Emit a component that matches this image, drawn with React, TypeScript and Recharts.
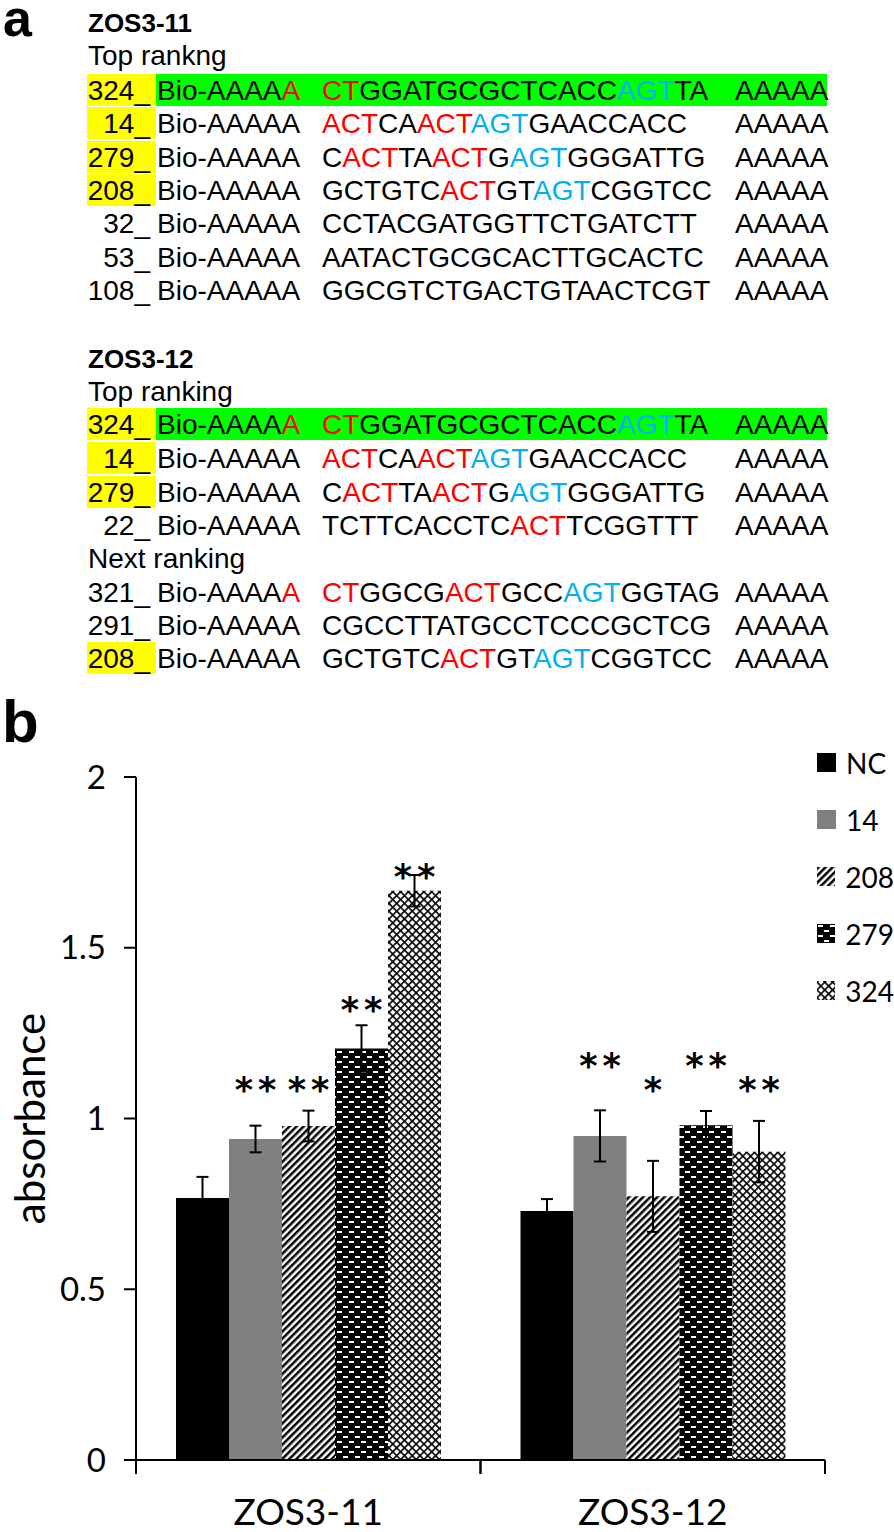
import React from "react";
import { BarChart, Bar, XAxis, YAxis, ErrorBar, LabelList, Legend } from "recharts";

// ---- chart data (panel b) ----
const groups = ["ZOS3-11", "ZOS3-12"];

const ncValues = [0.767, 0.729];
const ncErrors = [0.062, 0.035];
const ncStars = ["", ""];
const ncStarLevels = [0, 0];

const a14Values = [0.94, 0.949];
const a14Errors = [0.039, 0.075];
const a14Stars = ["**", "**"];
const a14StarLevels = [1.104, 1.174];

const a208Values = [0.978, 0.772];
const a208Errors = [0.045, 0.104];
const a208Stars = ["**", "*"];
const a208StarLevels = [1.104, 1.104];

const a279Values = [1.205, 0.98];
const a279Errors = [0.068, 0.042];
const a279Stars = ["**", "**"];
const a279StarLevels = [1.338, 1.174];

const a324Values = [1.667, 0.903];
const a324Errors = [0.046, 0.09];
const a324Stars = ["**", "**"];
const a324StarLevels = [1.728, 1.104];

const yTicks = [0, 0.5, 1, 1.5, 2];

const series = [
  { key: "nc", name: "NC", fill: "#000000", values: ncValues, errors: ncErrors, stars: ncStars, levels: ncStarLevels },
  { key: "s14", name: "14", fill: "#808080", values: a14Values, errors: a14Errors, stars: a14Stars, levels: a14StarLevels },
  { key: "s208", name: "208", fill: "url(#pat208)", values: a208Values, errors: a208Errors, stars: a208Stars, levels: a208StarLevels },
  { key: "s279", name: "279", fill: "url(#pat279)", values: a279Values, errors: a279Errors, stars: a279Stars, levels: a279StarLevels },
  { key: "s324", name: "324", fill: "url(#pat324)", values: a324Values, errors: a324Errors, stars: a324Stars, levels: a324StarLevels },
];

const data = groups.map((group, i) => {
  const row: Record<string, any> = { group };
  series.forEach((s) => {
    row[s.key] = s.values[i];
    row[s.key + "Err"] = s.errors[i];
    row[s.key + "Star"] = s.stars[i];
    row[s.key + "Lvl"] = s.levels[i];
  });
  return row;
});

// ---- sequence table (panel a) ----
const RED = "#ff0000";
const BLUE = "#00b0f0";
type Seg = [string, string?];
type SeqRow = { id: string; mark?: "yellow" | "green"; bio?: Seg[]; seq: Seg[] };

const zos11Rows: SeqRow[] = [
  { id: "324_", mark: "green", bio: [["Bio-AAAA"], ["A", RED]], seq: [["CT", RED], ["GGATGCGCTCACC"], ["AGT", BLUE], ["TA"]] },
  { id: "14_", mark: "yellow", seq: [["ACT", RED], ["CA"], ["ACT", RED], ["AGT", BLUE], ["GAACCACC"]] },
  { id: "279_", mark: "yellow", seq: [["C"], ["ACT", RED], ["TA"], ["ACT", RED], ["G"], ["AGT", BLUE], ["GGGATTG"]] },
  { id: "208_", mark: "yellow", seq: [["GCTGTC"], ["ACT", RED], ["GT"], ["AGT", BLUE], ["CGGTCC"]] },
  { id: "32_", seq: [["CCTACGATGGTTCTGATCTT"]] },
  { id: "53_", seq: [["AATACTGCGCACTTGCACTC"]] },
  { id: "108_", seq: [["GGCGTCTGACTGTAACTCGT"]] },
];

const zos12TopRows: SeqRow[] = [
  { id: "324_", mark: "green", bio: [["Bio-AAAA"], ["A", RED]], seq: [["CT", RED], ["GGATGCGCTCACC"], ["AGT", BLUE], ["TA"]] },
  { id: "14_", mark: "yellow", seq: [["ACT", RED], ["CA"], ["ACT", RED], ["AGT", BLUE], ["GAACCACC"]] },
  { id: "279_", mark: "yellow", seq: [["C"], ["ACT", RED], ["TA"], ["ACT", RED], ["G"], ["AGT", BLUE], ["GGGATTG"]] },
  { id: "22_", seq: [["TCTTCACCTC"], ["ACT", RED], ["TCGGTTT"]] },
];

const zos12NextRows: SeqRow[] = [
  { id: "321_", bio: [["Bio-AAAA"], ["A", RED]], seq: [["CT", RED], ["GGCG"], ["ACT", RED], ["GCC"], ["AGT", BLUE], ["GGTAG"]] },
  { id: "291_", seq: [["CGCCTTATGCCTCCCGCTCG"]] },
  { id: "208_", mark: "yellow", seq: [["GCTGTC"], ["ACT", RED], ["GT"], ["AGT", BLUE], ["CGGTCC"]] },
];

const SEQ_FONT = "'Liberation Sans', Arial, sans-serif";
const CHART_FONT = "Lato, 'Open Sans', sans-serif";

function SeqLine({ row, y }: { row: SeqRow; y: number }) {
  const bio = row.bio ?? [["Bio-AAAAA"]];
  return (
    <g>
      {row.mark && <rect x={87} y={y - 26} width={69} height={32} fill="#ffff00" />}
      {row.mark === "green" && <rect x={156} y={y - 26} width={671} height={32} fill="#00ff00" />}
      <text x={150} y={y} textAnchor="end">{row.id}</text>
      <text x={157} y={y}>
        {bio.map(([t, c], i) => (
          <tspan key={i} fill={c ?? "#000"}>{t}</tspan>
        ))}
      </text>
      <text x={322} y={y}>
        {row.seq.map(([t, c], i) => (
          <tspan key={i} fill={c ?? "#000"}>{t}</tspan>
        ))}
      </text>
      <text x={735} y={y}>AAAAA</text>
    </g>
  );
}

function SequencePanel() {
  const rows11 = [100, 133, 167, 200, 233, 267, 300];
  const rows12 = [434, 468, 502, 535];
  const rowsNext = [602, 635, 668];
  return (
    <svg width={894} height={1532} style={{ position: "absolute", left: 0, top: 0 }}>
      <g fontFamily={SEQ_FONT} fontSize={28} fill="#000">
        <text x={3} y={36} fontSize={52} fontWeight="bold">a</text>
        <text x={2} y={742} fontSize={60} fontWeight="bold">b</text>
        <text x={88} y={32} fontSize={26} fontWeight="bold">ZOS3-11</text>
        <text x={88} y={65}>Top rankng</text>
        {zos11Rows.map((r, i) => (
          <SeqLine key={"a" + i} row={r} y={rows11[i]} />
        ))}
        <text x={88} y={368} fontSize={26} fontWeight="bold">ZOS3-12</text>
        <text x={88} y={401}>Top ranking</text>
        {zos12TopRows.map((r, i) => (
          <SeqLine key={"b" + i} row={r} y={rows12[i]} />
        ))}
        <text x={88} y={568}>Next ranking</text>
        {zos12NextRows.map((r, i) => (
          <SeqLine key={"c" + i} row={r} y={rowsNext[i]} />
        ))}
      </g>
    </svg>
  );
}

// significance stars placed at a level read through the bar's own scale
const starContent = (key: string) => (props: any) => {
  const idx = props.index ?? 0;
  const text = data[idx]?.[key + "Star"];
  if (!text) return null;
  const vb = props.viewBox ?? {};
  const x = props.x ?? vb.x;
  const y = props.y ?? vb.y;
  const w = props.width ?? vb.width;
  const h = props.height ?? vb.height;
  const val = data[idx][key];
  const level = data[idx][key + "Lvl"];
  const base = y + h;
  const cy = base - (level * h) / val;
  const fs = 35;
  const ls = 5;
  return (
    <text
      x={x + w / 2 + (text.length > 1 ? ls / 2 : 0)}
      y={cy + fs * 0.55}
      textAnchor="middle"
      fontFamily="'DejaVu Sans', sans-serif"
      fontWeight="bold"
      fontSize={fs}
      letterSpacing={text.length > 1 ? ls : 0}
      fill="#000"
    >
      {text}
    </text>
  );
};

const renderGroupTick = (props: any) => {
  const { x, y, payload } = props;
  const half = payload?.offset ?? (props.width ?? 689) / groups.length / 2;
  return (
    <g>
      <line x1={x - half} x2={x - half} y1={y} y2={y + 14} stroke="#000" strokeWidth={2} />
      <line x1={x + half} x2={x + half} y1={y} y2={y + 14} stroke="#000" strokeWidth={2} />
      <text x={x} y={y + 65} textAnchor="middle" fontFamily={CHART_FONT} fontSize={37} fill="#000">
        {payload.value}
      </text>
    </g>
  );
};

const renderYTitle = (props: any) => {
  const vb = props.viewBox ?? {};
  const cx = (vb.x ?? 0) + 29;
  const cy = (vb.y ?? 0) + (vb.height ?? 0) / 2;
  return (
    <text
      x={cx}
      y={cy}
      transform={`rotate(-90 ${cx} ${cy})`}
      textAnchor="middle"
      dominantBaseline="central"
      fontFamily={CHART_FONT}
      fontSize={42}
      fill="#000"
    >
      absorbance
    </text>
  );
};

const seriesOrder = series.map((s) => s.name);

const renderLegend = (props: any) => {
  const items = [...(props.payload ?? [])].sort(
    (a: any, b: any) => seriesOrder.indexOf(String(a.value)) - seriesOrder.indexOf(String(b.value))
  );
  return (
    <div style={{ fontFamily: CHART_FONT, fontSize: 28, color: "#000" }}>
      {items.map((it: any, i: number) => (
        <div key={i} style={{ display: "flex", alignItems: "center", height: 57 }}>
          <svg width={19} height={19} style={{ marginRight: 10 }}>
            <rect width={19} height={19} fill={it.color} />
          </svg>
          <span>{it.value}</span>
        </div>
      ))}
    </div>
  );
};

export default function App() {
  return (
    <div style={{ position: "absolute", left: 0, top: 0, width: 894, height: 1532, background: "#fff", overflow: "hidden" }}>
      <SequencePanel />
      <div style={{ position: "absolute", left: 0, top: 700 }}>
        <BarChart
          width={894}
          height={832}
          data={data}
          margin={{ top: 77, right: 69, bottom: 0, left: 0 }}
          barGap={0}
        >
          <defs>
            <pattern id="pat208" patternUnits="userSpaceOnUse" width={5} height={5} patternTransform="rotate(45)">
              <rect width={5} height={5} fill="#fff" />
              <rect width={2.5} height={5} fill="#000" />
            </pattern>
            <pattern id="pat279" patternUnits="userSpaceOnUse" width={12} height={10}>
              <rect width={12} height={10} fill="#000" />
              <rect x={1} y={1} width={5} height={2} fill="#fff" />
              <rect x={7} y={6} width={5} height={2} fill="#fff" />
            </pattern>
            <pattern id="pat324" patternUnits="userSpaceOnUse" width={5.5} height={5.5} patternTransform="rotate(45)">
              <rect width={5.5} height={5.5} fill="#fff" />
              <rect width={1.6} height={5.5} fill="#000" />
              <rect width={5.5} height={1.6} fill="#000" />
            </pattern>
          </defs>
          <XAxis
            dataKey="group"
            axisLine={{ stroke: "#000", strokeWidth: 2 }}
            tickLine={false}
            tickSize={0}
            tickMargin={0}
            interval={0}
            height={72}
            tick={renderGroupTick}
          />
          <YAxis
            domain={[0, 2]}
            ticks={yTicks}
            width={136}
            axisLine={{ stroke: "#000", strokeWidth: 2 }}
            tickLine={{ stroke: "#000", strokeWidth: 2 }}
            tickSize={12}
            tickMargin={18}
            tick={{ fontFamily: CHART_FONT, fontSize: 33, fill: "#000" }}
            label={{ content: renderYTitle }}
          />
          <Legend
            layout="vertical"
            align="center"
            verticalAlign="middle"
            wrapperStyle={{ left: 817, top: 34, width: 77 }}
            content={renderLegend}
          />
          {series.map((s) => (
            <Bar key={s.key} dataKey={s.key} name={s.name} fill={s.fill} barSize={53} isAnimationActive={false}>
              <ErrorBar dataKey={s.key + "Err"} width={6} stroke="#000" strokeWidth={2} direction="y" />
              <LabelList dataKey={s.key + "Star"} content={starContent(s.key)} />
            </Bar>
          ))}
        </BarChart>
      </div>
    </div>
  );
}
